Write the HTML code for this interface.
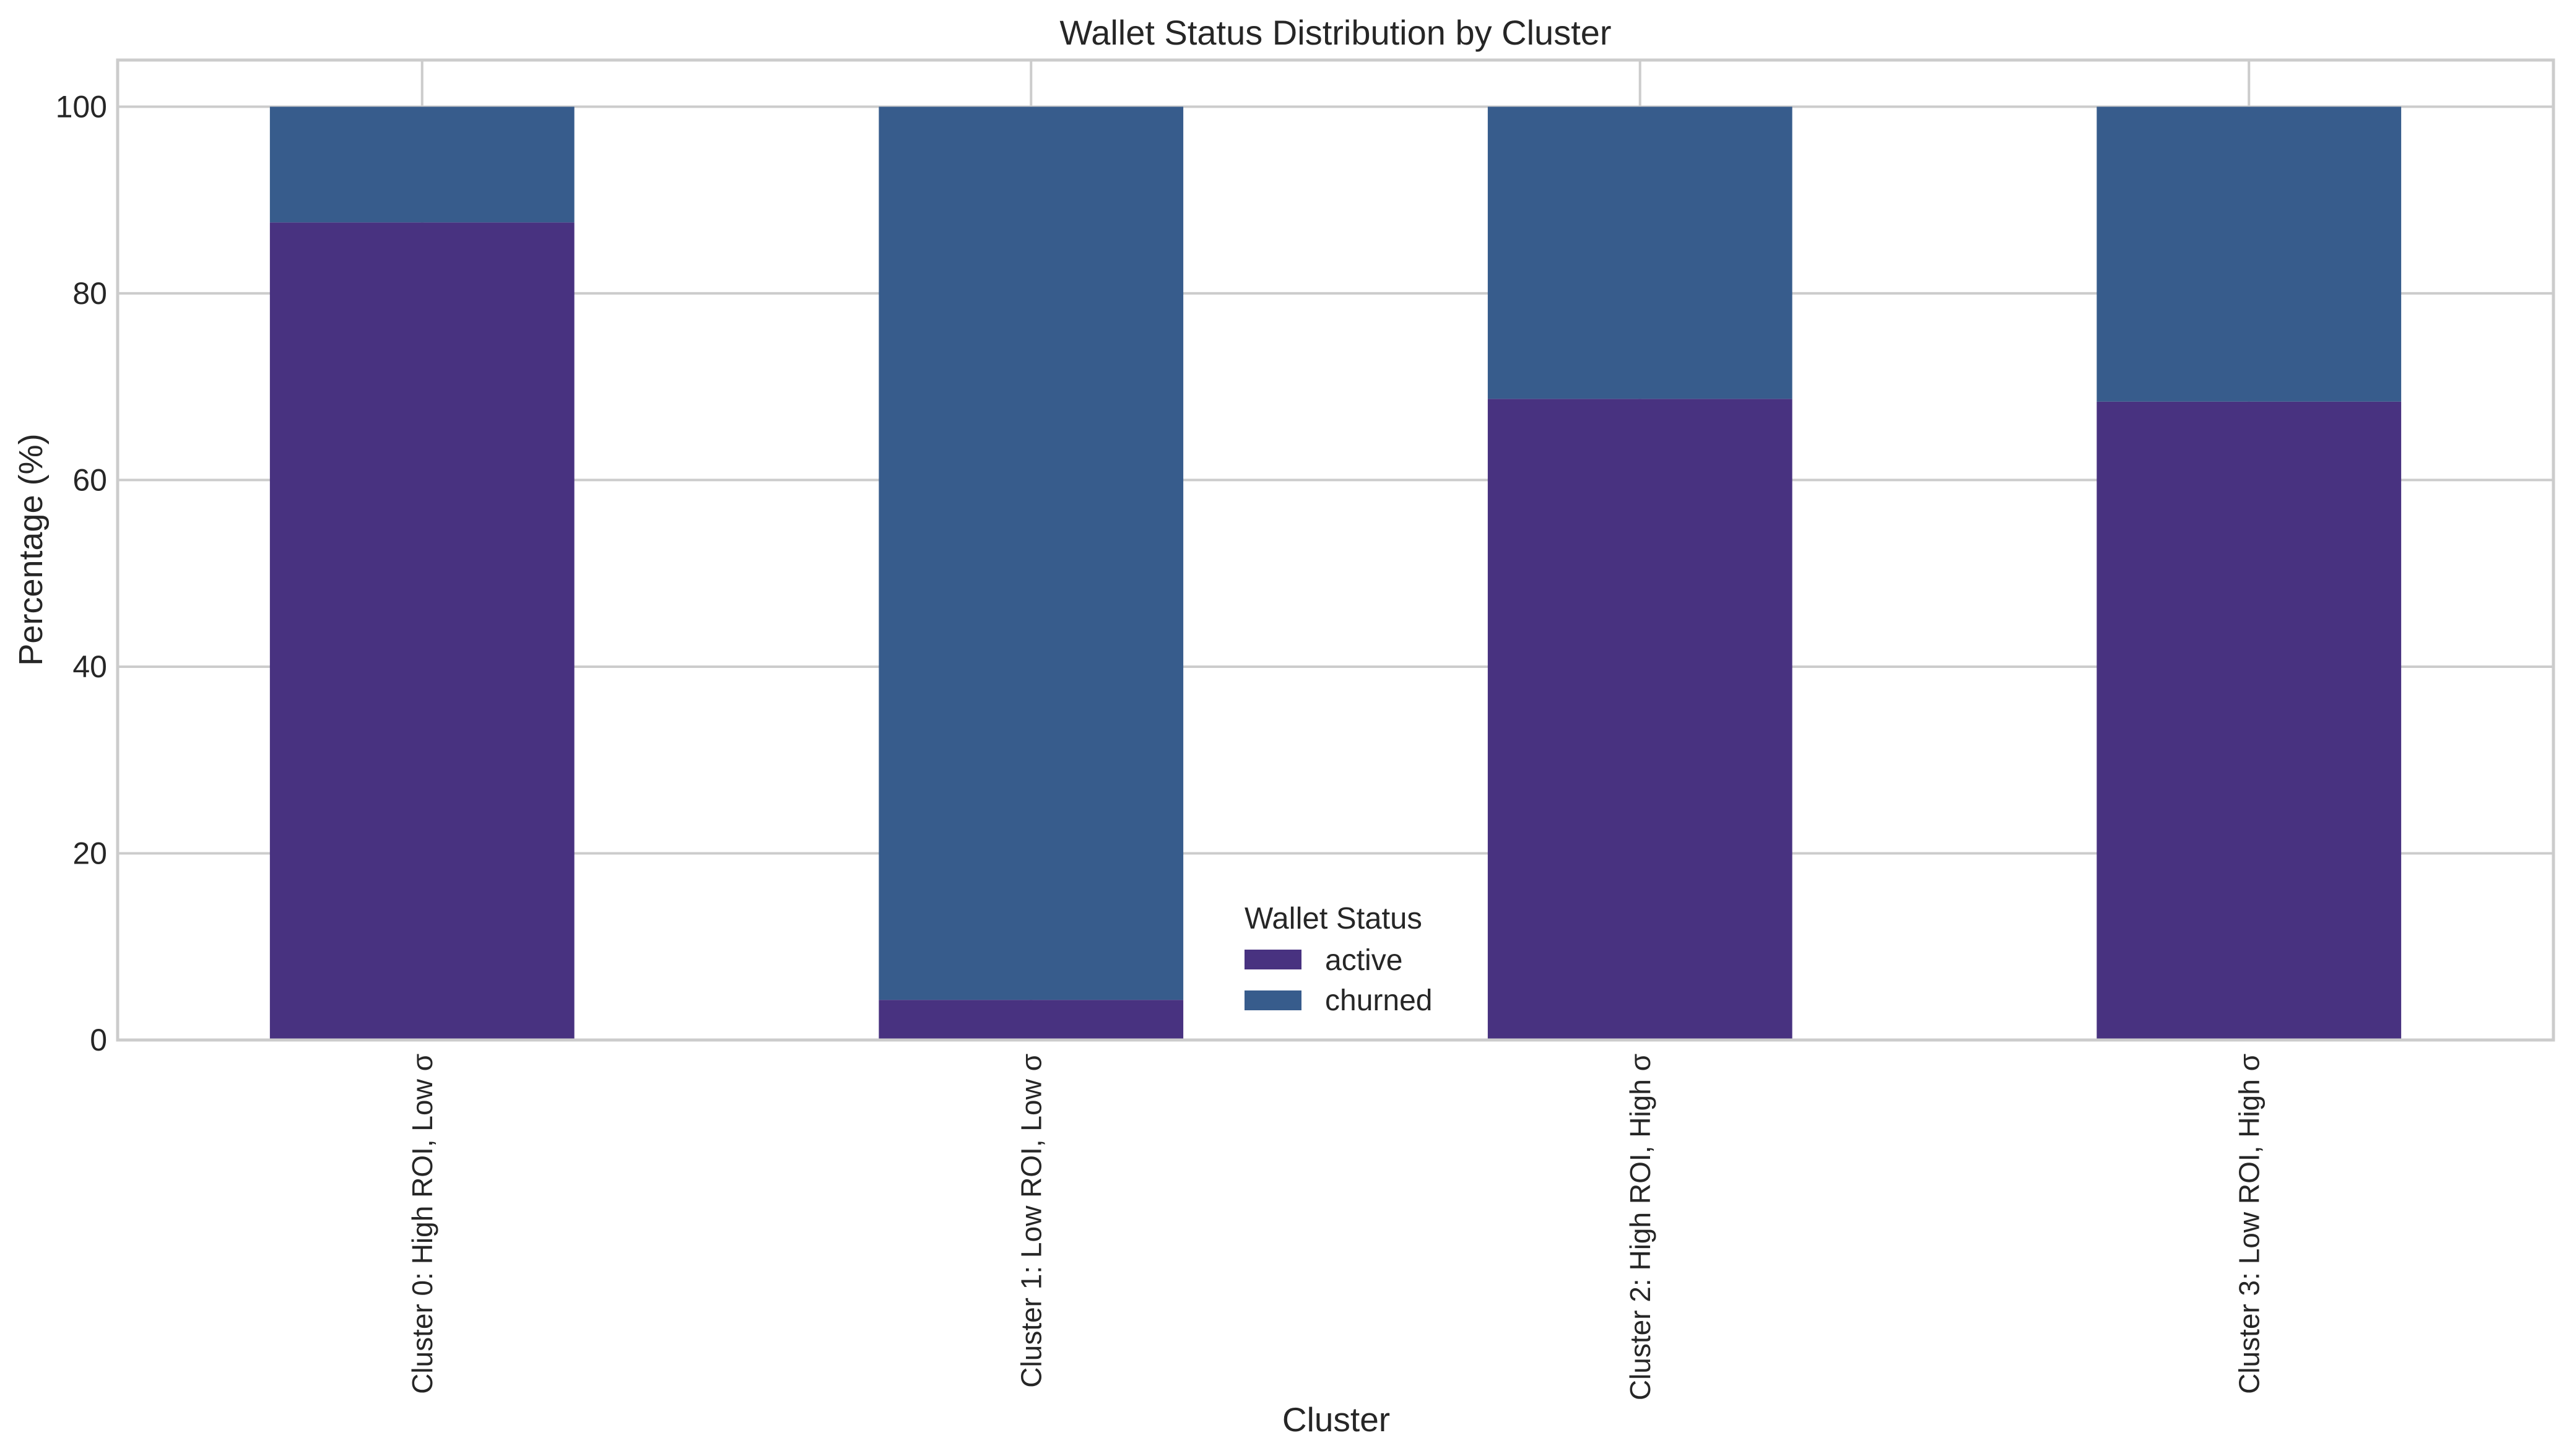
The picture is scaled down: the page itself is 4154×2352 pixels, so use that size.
<!DOCTYPE html>
<html><head><meta charset="utf-8"><style>
html,body{margin:0;padding:0;background:#fff;}
svg{display:block;font-family:"Liberation Sans",Arial,sans-serif;}
</style></head><body>
<svg id="chart" width="4154" height="2352" viewBox="0 0 4154 2352" xmlns="http://www.w3.org/2000/svg">
<rect width="4154" height="2352" fill="#fff"/>
<g id="grid"></g>
<g id="bars"></g>
<rect x="190" y="97" width="3934" height="1583" fill="none" stroke="#cccccc" stroke-width="5"/>
<g id="yticks"></g>
<g id="xticks"></g>
<text x="2157" y="72" font-size="56" fill="#262626" text-anchor="middle">Wallet Status Distribution by Cluster</text>
<text transform="translate(68,888) rotate(-90)" font-size="54" fill="#262626" text-anchor="middle">Percentage (%)</text>
<text x="2158" y="2312" font-size="55" fill="#262626" text-anchor="middle">Cluster</text>
<g>
<text x="2010" y="1500" font-size="49" fill="#262626">Wallet Status</text>
<rect x="2010" y="1534" width="92" height="32" fill="#483280"/>
<text x="2140" y="1567" font-size="48" fill="#262626">active</text>
<rect x="2010" y="1600" width="92" height="32" fill="#375c8c"/>
<text x="2140" y="1632" font-size="48" fill="#262626">churned</text>
</g>
</svg>
<script>
const categories = ["Cluster 0: High ROI, Low σ", "Cluster 1: Low ROI, Low σ", "Cluster 2: High ROI, High σ", "Cluster 3: Low ROI, High σ"];
const activeValues = [87.6, 4.3, 68.7, 68.4];
const churnedValues = [12.4, 95.7, 31.3, 31.6];
const yTickValues = [0, 20, 40, 60, 80, 100];

const NS = "http://www.w3.org/2000/svg";
const X0 = 190, X1 = 4124, Y0 = 1680, Ytop = 97, YMAX = 105;
function xScale(i){ return X0 + (i + 0.5) * (X1 - X0) / categories.length; }
function yScale(v){ return Y0 - v * (Y0 - Ytop) / YMAX; }
const bw = 0.5 * (X1 - X0) / categories.length;
function mk(tag, attrs, parent){ const e = document.createElementNS(NS, tag); for (const k in attrs) e.setAttribute(k, attrs[k]); parent.appendChild(e); return e; }

const grid = document.getElementById("grid");
const bars = document.getElementById("bars");
const yt = document.getElementById("yticks");
const xt = document.getElementById("xticks");

yTickValues.forEach(v => {
  const y = yScale(v);
  const l = mk("line", {x1: X0, x2: X1, y1: y, y2: y, stroke: "#cccccc", "stroke-width": 4}, grid);
  
  
  const t = mk("text", {x: 173, y: y + 17, "font-size": 50, fill: "#262626", "text-anchor": "end"}, yt);
  t.textContent = v;
  
  
});

categories.forEach((c, i) => {
  const x = xScale(i);
  const g = mk("line", {x1: x, x2: x, y1: Ytop, y2: Y0, stroke: "#cccccc", "stroke-width": 4}, grid);
  
  
  const a = mk("rect", {x: x - bw/2, y: yScale(activeValues[i]), width: bw, height: Y0 - yScale(activeValues[i]), fill: "#483280"}, bars);
  
  
  const top = activeValues[i] + churnedValues[i];
  const ch = mk("rect", {x: x - bw/2, y: yScale(top), width: bw, height: yScale(activeValues[i]) - yScale(top), fill: "#375c8c"}, bars);
  
  
  const t = mk("text", {transform: "translate(" + (x + 16) + ",1702) rotate(-90)", "font-size": 46, fill: "#262626", "text-anchor": "end"}, xt);
  t.textContent = c;
  
  
});
</script>
</body></html>
